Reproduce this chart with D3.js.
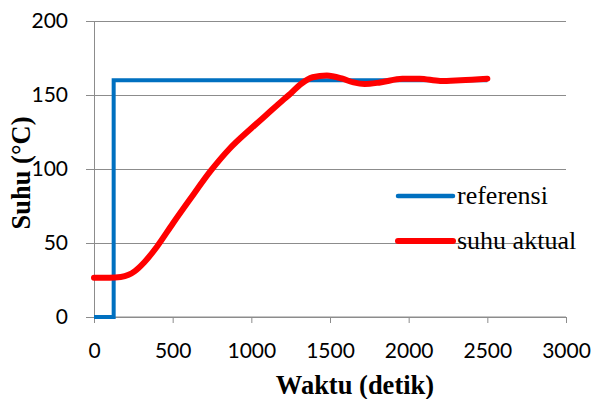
<!DOCTYPE html>
<html>
<head>
<meta charset="utf-8">
<script src="https://cdn.jsdelivr.net/npm/d3@7"></script>
<style>
  body { margin: 0; background: #fff; }
  .tick text { font-family: Lato, "Open Sans", sans-serif; font-size: 21px; fill: #000; }
  .serif { font-family: "Liberation Serif", "Times New Roman", serif; }
</style>
</head>
<body>
<svg id="chart" width="595" height="399"></svg>
<script>
// waktu (detik) dan nilai referensi
var refTime = [0, 125, 125, 2500];
var refValue = [0, 0, 160, 160];

// suhu aktual
var actTime = [0, 100, 170, 220, 260, 320, 400, 500, 610, 740, 860, 1000, 1100, 1200, 1250, 1310, 1390, 1480, 1580, 1650, 1720, 1820, 1960, 2070, 2200, 2330, 2500];
var actValue = [26.5, 26.5, 27, 28.5, 31, 37, 47.5, 63, 79.5, 98.5, 113.5, 127.5, 137, 146.5, 151, 157, 162, 163.2, 161, 158.5, 157.4, 158.5, 161, 161, 159.5, 160, 161];

var xTicks = [0, 500, 1000, 1500, 2000, 2500, 3000];
var yTicks = [0, 50, 100, 150, 200];

var seriesNames = ["referensi", "suhu aktual"];
var seriesColors = ["#0070c0", "#ff0000"];

var margin = { top: 21, right: 29, bottom: 82, left: 94 };
var w = 595 - margin.left - margin.right;
var h = 399 - margin.top - margin.bottom;

var svg = d3.select("#chart")
  .append("g")
    .attr("transform", "translate(" + margin.left + "," + margin.top + ")");

var xScale = d3.scaleLinear().domain([0, 3000]).range([0, w]);
var yScale = d3.scaleLinear().domain([0, 200]).range([h, 0]);

// garis grid horizontal + sumbu y
var yAxis = d3.axisLeft(yScale).tickValues(yTicks).tickSize(8).tickPadding(18).tickFormat(d3.format("d"));
var gy = svg.append("g").call(yAxis);
gy.select(".domain").attr("stroke", "#8c8c8c");
gy.selectAll(".tick line").attr("stroke", "#8c8c8c")
  .attr("x1", -8).attr("x2", w);

var xAxis = d3.axisBottom(xScale).tickValues(xTicks).tickSize(6).tickPadding(20).tickFormat(d3.format("d"));
var gx = svg.append("g").attr("transform", "translate(0," + h + ")").call(xAxis);
gx.select(".domain").attr("stroke", "#8c8c8c").attr("d", "M0,0H" + w);
gx.selectAll(".tick line").attr("stroke", "#8c8c8c");

// data
var refData = refTime.map(function (t, i) { return { t: t, v: refValue[i] }; });
var actData = actTime.map(function (t, i) { return { t: t, v: actValue[i] }; });

var line = d3.line().x(d => xScale(d.t)).y(d => yScale(d.v));

svg.append("path").datum(refData)
  .attr("d", line)
  .attr("fill", "none")
  .attr("stroke", seriesColors[0])
  .attr("stroke-width", 4);

svg.append("path").datum(actData)
  .attr("d", line.curve(d3.curveMonotoneX))
  .attr("fill", "none")
  .attr("stroke", seriesColors[1])
  .attr("stroke-width", 6)
  .attr("stroke-linecap", "round");

// legenda
var legend = svg.selectAll("g.legend").data(seriesNames)
  .enter().append("g")
    .attr("class", "legend")
    .attr("transform", (d, i) => "translate(304," + (175 + i * 45) + ")");

legend.append("line")
  .attr("x1", 0).attr("x2", 55)
  .attr("stroke", (d, i) => seriesColors[i])
  .attr("stroke-width", (d, i) => i == 0 ? 4.5 : 6)
  .attr("stroke-linecap", "round");

legend.append("text")
  .attr("class", "serif")
  .attr("x", 59).attr("y", 8)
  .attr("font-size", "26px")
  .text(d => d);

// judul sumbu
svg.append("text")
  .attr("class", "serif")
  .attr("x", 261).attr("y", 373)
  .attr("text-anchor", "middle")
  .attr("font-size", "26.5px")
  .attr("font-weight", "bold")
  .text("Waktu (detik)");

svg.append("text")
  .attr("class", "serif")
  .attr("transform", "translate(" + (30 - margin.left) + "," + (173 - margin.top) + ") rotate(-90)")
  .attr("text-anchor", "middle")
  .attr("font-size", "26.5px")
  .attr("font-weight", "bold")
  .text("Suhu (°C)");
</script>
</body>
</html>
